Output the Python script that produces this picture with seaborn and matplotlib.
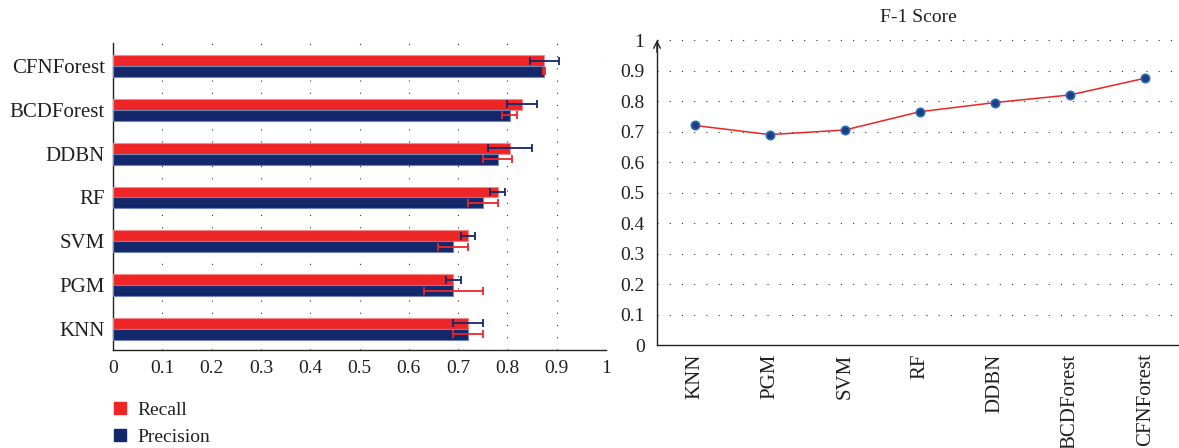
import numpy as np
import pandas as pd
import matplotlib
matplotlib.use("Agg")
import matplotlib.pyplot as plt
import seaborn as sns
from matplotlib.patches import Patch

# Recall / precision per model (top to bottom) with their spreads
models = ["CFNForest", "BCDForest", "DDBN", "RF", "SVM", "PGM", "KNN"]
recall = [0.875, 0.83, 0.805, 0.78, 0.72, 0.69, 0.72]
precision = [0.875, 0.805, 0.78, 0.75, 0.69, 0.69, 0.72]
recall_err = [0.03, 0.03, 0.045, 0.015, 0.015, 0.015, 0.03]
precision_err = [0.002, 0.015, 0.03, 0.03, 0.03, 0.06, 0.03]

# F-1 score per model
f1_models = ["KNN", "PGM", "SVM", "RF", "DDBN", "BCDForest", "CFNForest"]
f1_score = [0.72, 0.69, 0.705, 0.765, 0.795, 0.82, 0.875]

x_ticks = [0, 0.1, 0.2, 0.3, 0.4, 0.5, 0.6, 0.7, 0.8, 0.9, 1]
x_tick_labels = ["0", "0.1", "0.2", "0.3", "0.4", "0.5", "0.6", "0.7", "0.8", "0.9", "1"]

RED = "#ee2527"
NAVY = "#13286b"
TXT = "#231f20"

sns.set_style("white")
plt.rcParams["font.family"] = ["Liberation Serif", "DejaVu Serif"]
plt.rcParams["text.color"] = TXT
plt.rcParams["xtick.color"] = TXT
plt.rcParams["ytick.color"] = TXT

df = pd.DataFrame({
    "model": models * 2,
    "value": recall + precision,
    "metric": ["Recall"] * len(models) + ["Precision"] * len(models),
})

fig = plt.figure(figsize=(11.79, 4.48), dpi=100)
W, H = 1179, 448

# ---------- left: horizontal bars ----------
ax = fig.add_axes([113 / W, 1 - 350 / H, 493 / W, 307 / H])
sns.barplot(data=df, x="value", y="model", hue="metric", order=models,
            hue_order=["Recall", "Precision"], palette=[RED, NAVY],
            orient="h", width=0.5, ax=ax, legend=False, saturation=1,
            zorder=3)
edge_cols = ["#f48a8b", "#7283b5"]
for cont, ec in zip(ax.containers, edge_cols):
    for bar in cont:
        bar.set_edgecolor(ec)
        bar.set_linewidth(0.8)

# error bars: recall bars carry navy bars, precision bars carry red ones
for cont, vals, errs, ecol in zip(ax.containers, [recall, precision],
                                  [recall_err, precision_err], [NAVY, RED]):
    ys = [b.get_y() + b.get_height() / 2 for b in cont]
    ax.errorbar(vals, ys, xerr=errs, fmt="none", ecolor=ecol,
                elinewidth=1.3, capsize=3.2, capthick=1.3, zorder=4)

ax.set_xlim(0, 1)
ax.set_ylim(6.48, -0.525)
for xv in x_ticks[1:]:
    ax.axvline(xv, color="#333333", lw=0.8, ls=(0, (1, 10)), zorder=1)
ax.set_xticks(x_ticks)
ax.set_xticklabels(x_tick_labels, fontsize=14)
ax.tick_params(axis="x", length=0, pad=7)
ax.tick_params(axis="y", length=0, pad=6, labelsize=15)
ax.set_xlabel("")
ax.set_ylabel("")
for s in ["top", "right"]:
    ax.spines[s].set_visible(False)
for s in ["left", "bottom"]:
    ax.spines[s].set_color("#222222")
    ax.spines[s].set_linewidth(1.0)

handles = [Patch(facecolor=RED, edgecolor=RED, label="Recall"),
           Patch(facecolor=NAVY, edgecolor=NAVY, label="Precision")]
fig.legend(handles=handles, loc="upper left",
           bbox_to_anchor=(114 / W, 1 - 402 / H), frameon=False,
           fontsize=14, handlelength=0.6, handleheight=0.6,
           handletextpad=0.6, labelspacing=0.5, borderpad=0,
           borderaxespad=0)

# ---------- right: F-1 score line ----------
ax2 = fig.add_axes([657 / W, 1 - 345 / H, 522 / W, 308 / H])
sns.lineplot(x=f1_models, y=f1_score, sort=False, ax=ax2, color=RED, lw=1.1,
             marker="o", markersize=6, markerfacecolor="#1b3f7e",
             markeredgecolor="#2c6cb8", markeredgewidth=1.2, zorder=3)
ax2.set_xlim(-0.5, 6.45)
ax2.set_ylim(0, 1.01)
for yv in x_ticks[1:]:
    ax2.axhline(yv, color="#333333", lw=0.8, ls=(0, (1, 10)), zorder=1)
ax2.set_yticks(x_ticks)
ax2.set_yticklabels(x_tick_labels, fontsize=14)
ax2.tick_params(axis="y", length=0, pad=9)
ax2.tick_params(axis="x", length=0, pad=6, labelsize=15, labelrotation=90)
ax2.set_xlabel("")
ax2.set_ylabel("")
for s in ["top", "right"]:
    ax2.spines[s].set_visible(False)
for s in ["left", "bottom"]:
    ax2.spines[s].set_color("#222222")
    ax2.spines[s].set_linewidth(1.0)
ax2.spines["left"].set_bounds(0, 1.0)
ax2.annotate("", xy=(0, 1.0), xytext=(0, 0.96),
             xycoords=ax2.get_yaxis_transform(),
             textcoords=ax2.get_yaxis_transform(),
             arrowprops=dict(arrowstyle="->", lw=1.0, color="#222222",
                             mutation_scale=12, shrinkA=0, shrinkB=0))
fig.text(918 / W, 1 - 18 / H, "F-1 Score", ha="center", va="center",
         fontsize=14)

fig.savefig("out.png", dpi=100)
